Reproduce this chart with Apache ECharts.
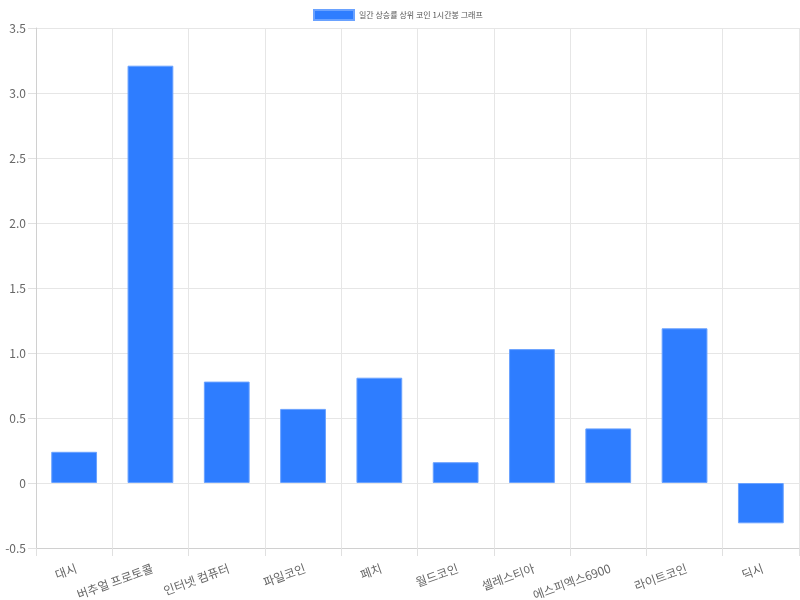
<!DOCTYPE html>
<html>
<head>
<meta charset="utf-8">
<script src="https://cdn.jsdelivr.net/npm/echarts@6/dist/echarts.min.js"></script>
<style>
  html, body { margin: 0; padding: 0; background: #fff; }
  #chart { width: 800px; height: 600px; }
</style>
</head>
<body>
<div id="chart"></div>
<script>
// 코인 이름
var coins = ["대시", "버추얼 프로토콜", "인터넷 컴퓨터", "파일코인", "페치", "월드코인", "셀레스티아", "에스피엑스6900", "라이트코인", "딕시"];
// 1시간봉 상승률 (%)
var changes = [0.24, 3.21, 0.78, 0.57, 0.81, 0.16, 1.03, 0.42, 1.19, -0.31];
var seriesName = "일간 상승률 상위 코인 1시간봉 그래프";

var font = "'Noto Sans CJK KR', 'Noto Sans', sans-serif";
var chart = echarts.init(document.getElementById("chart"));

chart.setOption({
  animation: false,
  textStyle: { fontFamily: font },
  legend: {
    top: 4,
    left: 308,
    icon: "rect",
    itemWidth: 40,
    itemHeight: 10,
    itemGap: 10,
    textStyle: { fontSize: 8, color: "#555", fontFamily: font },
    data: [seriesName]
  },
  grid: { left: 36, right: 1, top: 28, bottom: 52, containLabel: false, outerBoundsMode: "none" },
  xAxis: {
    type: "category",
    data: coins,
    boundaryGap: true,
    axisLine: { onZero: false, lineStyle: { color: "#d0d0d0" } },
    axisTick: { show: true, length: 8, lineStyle: { color: "#e0e0e0" } },
    splitLine: { show: true, lineStyle: { color: "#e6e6e6" } },
    axisLabel: { rotate: 20, interval: 0, color: "#666", fontSize: 12, margin: 14, verticalAlign: "top" }
  },
  yAxis: {
    type: "value",
    min: -0.5,
    max: 3.5,
    interval: 0.5,
    axisLine: { show: true, lineStyle: { color: "#d0d0d0" } },
    axisTick: { show: true, length: 8, lineStyle: { color: "#e0e0e0" } },
    splitLine: { lineStyle: { color: "#e6e6e6" } },
    axisLabel: {
      color: "#666",
      fontSize: 12,
      margin: 10,
      formatter: function (v) { return v === 0 ? "0" : v.toFixed(1); }
    }
  },
  series: [{
    name: seriesName,
    type: "bar",
    data: changes,
    barCategoryGap: "40%",
    itemStyle: {
      color: "#2e7dff",
      borderColor: "#6aa2ff",
      borderWidth: 1
    }
  }]
});
</script>
</body>
</html>
